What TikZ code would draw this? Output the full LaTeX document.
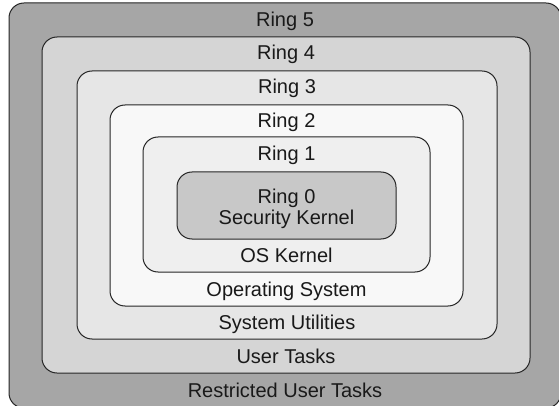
\documentclass[tikz,border=0pt]{standalone}
\usepackage{fontspec}
\setmainfont{Liberation Sans}
\definecolor{ringV}{HTML}{A6A6A6}
\definecolor{ringIV}{HTML}{D5D5D5}
\definecolor{ringIII}{HTML}{E6E6E6}
\definecolor{ringII}{HTML}{F8F8F8}
\definecolor{ringI}{HTML}{EFEFEF}
\definecolor{ringO}{HTML}{C8C8C8}
\begin{document}
\begin{tikzpicture}[x=1pt,y=-1pt,
  ring/.style={draw=black!85, line width=1pt, rounded corners=15pt},
  lbl/.style={anchor=base, inner sep=0pt, font=\fontsize{20}{20}\selectfont, text=black!90}]
\useasboundingbox (0,0) rectangle (559,406);
\clip (0,0) rectangle (559,406);
\fill[white] (0,0) rectangle (559,406);

% nested protection rings, outermost first
\draw[ring, fill=ringV]   (9,3)     rectangle (561,408);
\draw[ring, fill=ringIV]  (42,37)   rectangle (530,373);
\draw[ring, fill=ringIII] (77,71)   rectangle (497,339);
\draw[ring, fill=ringII]  (110,105) rectangle (463,306);
\draw[ring, fill=ringI]   (143,137) rectangle (430,272);
\draw[ring, fill=ringO]   (177,172) rectangle (396,239);

% ring names along the top of each ring
\node[lbl] (n5) at (285,27)    {Ring 5};
\node[lbl] (n4) at (286,60)    {Ring 4};
\node[lbl] (n3) at (287,94)    {Ring 3};
\node[lbl] (n2) at (286.5,128) {Ring 2};
\node[lbl] (n1) at (286.5,161) {Ring 1};
\node[lbl] (n0) at (286.5,204) {Ring 0};
\node[lbl] (k0) at (286.5,224) {Security Kernel};

% what runs in each ring, along the bottom
\node[lbl] (k1) at (286.5,262) {OS Kernel};
\node[lbl] (k2) at (286.5,296) {Operating System};
\node[lbl] (k3) at (287,329)   {System Utilities};
\node[lbl] (k4) at (286,363)   {User Tasks};
\node[lbl] (k5) at (285,397)   {Restricted User Tasks};
\end{tikzpicture}
\end{document}
